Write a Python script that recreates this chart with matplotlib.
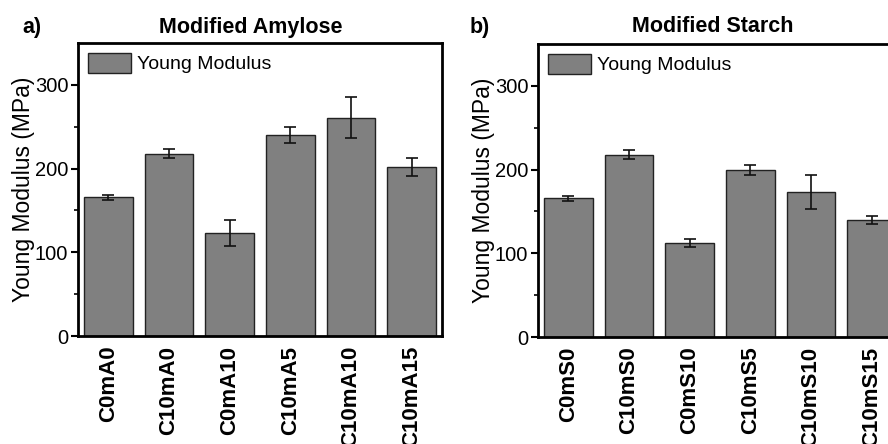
import numpy as np
import matplotlib.pyplot as plt

plt.rcParams['font.family'] = ['Liberation Sans', 'DejaVu Sans']

amylose_labels = ["C0mA0", "C10mA0", "C0mA10", "C10mA5", "C10mA10", "C10mA15"]
amylose_values = [166, 218, 123, 240, 261, 202]
amylose_err = [3, 5, 16, 10, 25, 11]

starch_labels = ["C0mS0", "C10mS0", "C0mS10", "C10mS5", "C10mS10", "C10mS15"]
starch_values = [166, 218, 112, 199, 173, 140]
starch_err = [3, 5, 5, 6, 20, 4.5]

fig = plt.figure(figsize=(8.88, 4.44), dpi=100)
ax1 = fig.add_axes([78 / 888, 108 / 444, 364 / 888, 293 / 444])
ax2 = fig.add_axes([538 / 888, 107 / 444, 364 / 888, 293 / 444])


def draw(ax, labels, values, err):
    x = np.arange(len(labels))
    ax.bar(x, values, width=0.8, color='#808080', edgecolor='#222222',
           linewidth=1.0, label='Young Modulus')
    ax.errorbar(x, values, yerr=err, fmt='none', ecolor='#111111',
                elinewidth=1.2, capsize=4, capthick=1.2)
    ax.set_xlim(-0.5, len(labels) - 0.5)
    ax.set_ylim(0, 350)
    ax.set_yticks([0, 100, 200, 300])
    ax.set_yticks([50, 150, 250], minor=True)
    ax.set_xticks(x)
    ax.set_xticklabels(labels, rotation=90, fontsize=16, fontweight='bold')
    ax.tick_params(axis='x', length=0, pad=7)
    ax.tick_params(axis='y', which='major', direction='out', length=5,
                   width=1.5, labelsize=14.5, pad=2)
    ax.tick_params(axis='y', which='minor', direction='out', length=3,
                   width=1.2)
    for s in ax.spines.values():
        s.set_linewidth(2)
    ax.set_ylabel('Young Modulus (MPa)', fontsize=16.5, labelpad=0)
    ax.legend(loc='upper left', frameon=False, fontsize=14,
              handlelength=2.2, handleheight=1.2, handletextpad=0.35,
              borderaxespad=0.2, borderpad=0.3)


draw(ax1, amylose_labels, amylose_values, amylose_err)
draw(ax2, starch_labels, starch_values, starch_err)

fig.text(251 / 888, 1 - 27 / 444, 'Modified Amylose', ha='center', va='center',
         fontsize=15.5, fontweight='bold')
fig.text(713 / 888, 1 - 27 / 444, 'Modified Starch', ha='center', va='center',
         fontsize=15.5, fontweight='bold')
fig.text(22 / 888, 1 - 27 / 444, 'a)', ha='left', va='center',
         fontsize=15.5, fontweight='bold')
fig.text(470 / 888, 1 - 27 / 444, 'b)', ha='left', va='center',
         fontsize=15.5, fontweight='bold')

fig.savefig('out.png', dpi=100)
